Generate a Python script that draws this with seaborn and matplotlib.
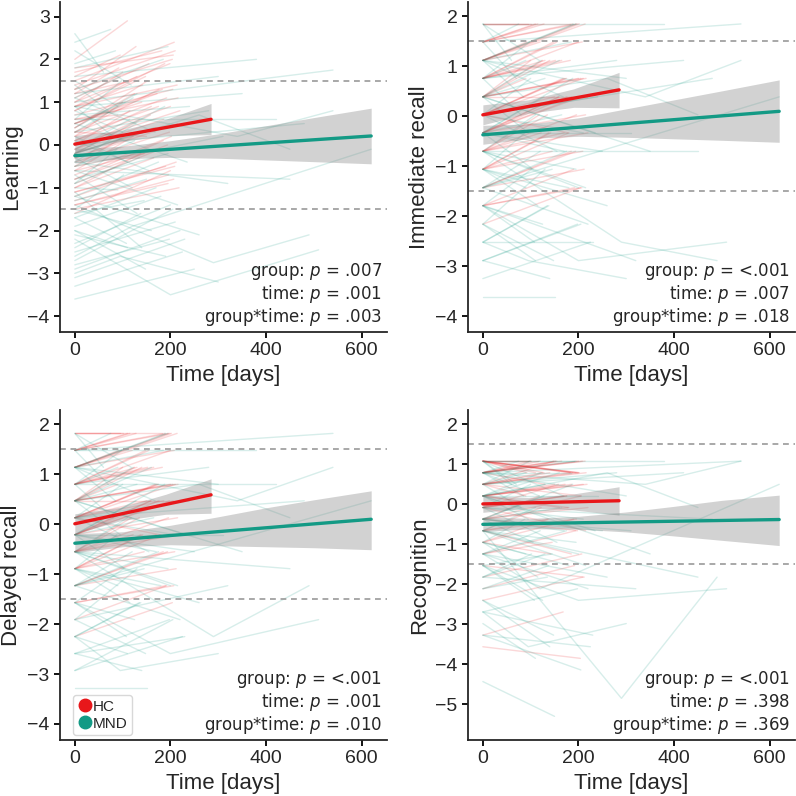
import numpy as np
import pandas as pd
import matplotlib
matplotlib.use("Agg")
import matplotlib.pyplot as plt
import seaborn as sns
from matplotlib.lines import Line2D

# ---------------- data ----------------
panel_names = ["Learning", "Immediate recall", "Delayed recall", "Recognition"]
groups = ["HC", "MND"]

# follow-up times (days); baseline is day 0
hc_t1 = [95, 110, 120, 130, 140, 150, 160, 170, 180, 185, 190, 195, 200, 205, 210, 215, 220, 100, 125, 145,
         165, 175, 188, 198, 208, 212, 90, 135, 155, 178, 192, 202, 206, 218, 115, 142, 168, 183, 196, 204,
         100, 118, 128, 138, 148, 158, 172, 182, 194, 200, 207, 214, 92, 122, 152, 186, 199, 209, 216, 176]
mnd_t1 = [60, 75, 85, 90, 95, 100, 105, 110, 115, 120, 125, 130, 135, 140, 150, 160, 170, 180, 190, 200,
          210, 220, 230, 250, 280, 300, 320, 350, 380, 420, 450, 480, 540, 90, 110, 130, 145, 165, 185, 195,
          205, 240, 260, 310,
          70, 88, 98, 108, 118, 128, 138, 155, 175, 195, 215, 225, 80, 102, 122, 148, 168, 188, 198, 235]
mnd3_t1 = [200, 290, 95, 260, 340, 120]
mnd3_t2 = [510, 490, 300, 450, 540, 620]

# Learning
hc_learn_0 = [1.6, 2.0, 1.2, 0.9, 0.5, 0.3, 0.1, -0.2, -0.5, -0.8, -1.1, -1.4, -1.6, 0.7, 1.4, -0.3, 0.0, 1.0, 0.4, -0.6,
              -1.0, 0.2, 0.8, -0.4, 1.5, -1.2, 0.6, -0.1, 1.1, -0.9, 0.3, -0.7, 1.8, -1.5, 0.0, 0.9, -0.3, 0.5, -1.3, 1.3,
              0.2, -0.5, 1.3, -1.0, 0.8, -0.2, 0.5, 1.7, -0.8, 0.1, -1.4, 0.9, 1.2, -0.6, 0.4, -0.1, 1.0, -1.1, 0.6, 0.3]
hc_learn_1 = [2.1, 2.9, 1.5, 1.6, 1.0, 0.2, 0.9, 0.4, -0.1, 0.1, -0.5, -0.9, -0.6, 1.3, 2.2, 0.5, 0.8, 1.7, 1.2, -0.2,
              -0.3, 0.9, 1.9, 0.3, 2.4, -0.4, 0.7, 0.6, 1.9, -0.1, 1.1, 0.2, 2.1, -1.0, 0.8, 1.4, 0.4, 1.3, -0.7, 2.0,
              1.0, 0.3, 2.3, -0.2, 1.6, 0.7, 1.2, 2.2, 0.0, 0.9, -0.8, 1.4, 1.8, 0.2, 1.5, 0.6, 1.9, -0.5, 1.1, 1.3]
mnd_learn_0 = [2.6, 2.4, 1.9, 1.5, 1.1, 0.8, 0.5, 0.2, -0.1, -0.3, -0.5, -0.7, -0.9, -1.1, -1.3, -1.5, -1.7, -1.9, -2.1, -2.3,
               -2.5, -2.9, -3.1, -3.6, 0.3, 1.2, -0.4, 0.9, 1.6, 0.6, -0.6, 0.0, 1.0, -1.0, -2.0, 0.4, -1.6, -0.2, 1.3, -0.8,
               -2.7, 0.7, -1.2, -0.5,
               1.4, -0.9, 0.6, -1.7, 2.2, -0.4, -2.4, 0.1, -1.2, 1.8, -0.6, -3.3, 0.9, -1.5, 0.3, -2.0, 1.1, -0.2, -2.8, 0.5]
mnd_learn_1 = [1.7, 2.7, 2.2, 0.9, 1.6, 0.3, 1.0, -0.4, 0.6, -1.0, 0.1, -1.6, -0.3, -2.4, -0.8, -2.0, -1.0, -1.2, -2.6, -1.4,
               -1.8, -2.0, -2.2, -2.9, 0.8, 1.6, -0.9, 1.2, 2.0, 0.6, -0.8, 0.5, 1.75, -1.05, -2.4, 1.2, -1.3, 0.4, 2.0, -0.2,
               -1.5, 0.9, -2.1, 0.2,
               0.8, -0.1, 1.5, -2.3, 1.4, 0.5, -1.6, -0.6, -0.4, 2.3, -1.4, -2.5, 0.2, -0.7, 1.1, -2.9, 0.3, 0.9, -2.2, -0.4]
mnd3_learn_0 = [-2.2, -1.4, -3.0, -0.2, 0.9, -2.6]
mnd3_learn_1 = [-3.5, -2.75, -2.6, 0.7, 0.2, -1.9]
mnd3_learn_2 = [-2.45, -2.1, -3.2, -0.1, 0.8, -0.1]

# Immediate recall
hc_imm_0 = [1.85, 1.49, 1.12, 0.76, 0.39, 0.03, -0.33, -0.70, -1.06, -1.43, -1.79, 1.12, 0.76, 0.39, 0.03, -0.33, -0.70, 1.85, 0.39, -1.06,
            0.76, 0.03, 1.49, -0.33, 1.12, -1.43, 0.39, -0.70, 0.76, 0.03, -1.79, 1.12, -0.33, 0.39, 1.49, -1.06, 0.03, 0.76, -0.70, -2.16,
            0.39, -0.70, 1.49, -1.06, 0.76, -0.33, 0.03, 1.85, -1.43, 0.39, -1.79, 1.12, 1.12, -0.70, 0.76, 0.03, 1.49, -1.06, 0.39, -0.33]
hc_imm_1 = [1.85, 1.85, 1.49, 1.12, 1.12, 0.39, 0.39, -0.33, -0.33, -0.70, -1.06, 1.85, 1.49, 0.76, 0.76, 0.03, -0.33, 1.85, 1.12, -0.70,
            1.12, 0.76, 1.85, 0.39, 1.49, -1.06, 0.76, 0.03, 1.49, -0.33, -1.43, 1.85, 0.39, 0.39, 1.85, -0.33, 0.76, 1.12, 0.03, -1.43,
            1.12, 0.03, 1.85, -0.33, 1.49, 0.39, 0.76, 1.85, -0.70, 0.76, -1.43, 1.85, 1.49, -0.33, 1.12, 0.39, 1.85, -0.70, 0.76, 0.39]
mnd_imm_0 = [1.85, 1.49, 1.12, 0.76, 0.39, 0.03, -0.33, -0.70, -1.06, -1.43, -1.79, -2.16, -2.52, -2.89, -3.62, 0.39, -0.33, -1.06, 1.12, -0.70,
             0.03, -1.43, -2.52, -0.33, 0.76, 1.12, -1.79, 0.39, 1.85, 0.76, -0.70, 0.03, 1.49, -1.06, -2.16, 0.39, -1.43, -0.33, 1.12, -0.70,
             -2.89, 0.03, -1.06, -0.33,
             1.49, -1.06, 0.76, -1.79, 1.85, -0.33, -2.52, 0.03, -1.43, 1.12, -0.70, -3.25, 0.76, -1.79, 0.39, -2.16, 1.12, -0.33, -2.89, 0.39]
mnd_imm_1 = [1.12, 1.85, 0.39, 1.12, -0.33, 0.76, -1.06, 0.03, -1.79, -0.70, -2.16, -1.06, -1.79, -3.25, -3.62, 1.12, -0.70, -1.43, 1.85, -1.43,
             -0.33, -2.16, -2.52, -0.70, 1.12, 0.76, -2.89, -0.70, 1.85, 1.12, -0.70, 0.76, 1.85, -1.43, -2.89, 0.76, -1.06, 0.03, 1.49, -1.06,
             -2.16, 0.39, -1.79, -0.33,
             0.76, -0.33, 1.49, -2.52, 1.12, 0.39, -1.79, -0.70, -0.70, 1.85, -1.43, -2.52, 0.03, -1.06, 1.12, -2.89, 0.39, 0.76, -2.16, -0.33]
mnd3_imm_0 = [-1.79, -0.70, -2.52, 0.39, 1.12, -1.43]
mnd3_imm_1 = [-2.89, -2.52, -2.89, 0.76, 0.39, -1.06]
mnd3_imm_2 = [-2.52, -2.89, -3.25, 0.03, 1.12, 0.39]

# Delayed recall
hc_del_0 = [1.82, 1.48, 1.14, 0.80, 0.47, 0.13, -0.21, -0.55, -0.89, -1.23, -1.57, 1.14, 0.80, 0.47, 0.13, -0.21, -0.55, 1.82, 0.47, -0.89,
            0.80, 0.13, 1.48, -0.21, 1.14, -1.23, 0.47, -0.55, 0.80, 0.13, -1.91, 1.14, -0.21, 0.47, 1.48, -0.89, 0.13, 0.80, -0.55, -2.25,
            0.47, -0.55, 1.48, -0.89, 0.80, -0.21, 0.13, 1.82, -1.23, 0.47, -1.57, 1.14, 1.14, -0.55, 0.80, 0.13, 1.48, -0.89, 0.47, -0.21]
hc_del_1 = [1.82, 1.82, 1.48, 1.14, 1.14, 0.47, 0.47, -0.21, -0.21, -0.55, -1.23, 1.82, 1.48, 0.80, 0.80, 0.13, -0.21, 1.82, 1.14, -0.55,
            1.14, 0.80, 1.82, 0.47, 1.48, -0.89, 0.80, 0.13, 1.48, -0.21, -1.23, 1.82, 0.47, 0.47, 1.82, -0.21, 0.80, 1.14, 0.13, -1.57,
            1.14, 0.13, 1.82, -0.21, 1.48, 0.47, 0.80, 1.82, -0.55, 0.80, -1.23, 1.82, 1.48, -0.21, 1.14, 0.47, 1.82, -0.55, 0.80, 0.47]
mnd_del_0 = [1.82, 1.48, 1.14, 0.80, 0.47, 0.13, -0.21, -0.55, -0.89, -1.23, -1.57, -1.91, -2.25, -2.59, -3.27, 0.47, -0.21, -0.89, 1.14, -0.55,
             0.13, -1.23, -2.59, -0.21, 0.80, 1.14, -1.91, 0.47, 1.48, 0.80, -0.55, 0.13, 1.48, -0.89, -2.25, 0.47, -1.23, -0.21, 1.14, -0.55,
             -2.93, 0.13, -0.89, -0.21,
             1.48, -0.89, 0.80, -1.57, 1.82, -0.21, -2.25, 0.13, -1.23, 1.14, -0.55, -2.93, 0.80, -1.57, 0.47, -1.91, 1.14, -0.21, -2.59, 0.47]
mnd_del_1 = [1.14, 1.82, 0.47, 1.14, -0.21, 0.80, -0.89, 0.13, -1.57, -0.55, -1.91, -0.89, -1.57, -2.93, -3.27, 1.14, -0.55, -1.23, 1.82, -1.23,
             -0.21, -1.91, -2.25, -0.55, 1.14, 0.80, -1.23, -0.55, 1.48, 0.80, -0.89, 0.47, 1.82, -1.23, -2.59, 0.80, -0.89, 0.13, 1.48, -0.89,
             -1.91, 0.47, -1.57, -0.21,
             0.80, -0.21, 1.48, -2.25, 1.14, 0.47, -1.57, -0.55, -0.55, 1.82, -1.23, -2.25, 0.13, -0.89, 1.14, -2.59, 0.47, 0.80, -1.91, -0.21]
mnd3_del_0 = [-1.57, -0.55, -2.25, 0.47, 1.14, -1.23]
mnd3_del_1 = [-2.59, -2.25, -2.93, 0.80, 0.47, -0.89]
mnd3_del_2 = [-1.91, -1.23, -2.59, 0.13, 1.14, 0.47]

# Recognition
hc_rec_0 = [1.08, 1.08, 0.79, 0.79, 0.50, 0.21, 0.21, -0.08, -0.37, -0.66, -0.95, 1.08, 0.79, 0.50, 0.21, -0.08, -0.37, 1.08, 0.50, -1.24,
            0.79, -0.08, 1.08, -0.37, 0.79, -1.53, 0.50, -0.66, 0.79, 0.21, -2.11, 1.08, -0.37, 0.21, 1.08, -0.95, -3.27, 0.50, -0.66, -3.56,
            0.79, -0.37, 1.08, -0.95, 0.50, -0.08, 0.21, 1.08, -1.24, 0.50, -1.82, 0.79, 1.08, -0.66, 0.79, 0.21, 1.08, -2.40, 0.50, -0.08]
hc_rec_1 = [1.08, 0.79, 1.08, 0.50, 0.79, 0.50, -0.08, 0.21, -0.08, -1.24, -0.37, 0.79, 1.08, 0.21, 0.50, -0.66, -0.08, 1.08, 0.79, -0.95,
            1.08, 0.21, 0.79, -0.66, 1.08, -1.82, 0.21, -0.37, 1.08, -0.08, -1.53, 0.79, 0.21, 0.50, 1.08, -1.24, -2.69, 0.79, -0.37, -3.85,
            1.08, 0.21, 0.79, -0.37, 1.08, 0.50, 0.50, 0.79, -0.66, 0.79, -1.24, 1.08, 0.79, -0.08, 1.08, 0.50, 0.79, -1.82, 0.79, 0.21]
mnd_rec_0 = [1.08, 0.79, 0.79, 0.50, 0.21, -0.08, -0.37, -0.66, -0.95, -1.24, -1.53, -1.82, -2.11, -2.40, -4.43, 0.21, -0.37, -0.95, 1.08, -0.66,
             -0.08, -1.24, -2.69, -0.37, 0.50, 0.79, -1.82, 0.21, 1.08, 0.50, -0.66, -0.08, 0.79, -0.95, -2.98, 0.21, -1.53, -0.37, 0.79, -0.66,
             -3.27, 0.21, -1.24, -0.37,
             1.08, -0.95, 0.50, -1.53, 0.79, -0.37, -2.11, -0.08, -1.24, 0.79, -0.66, -3.27, 0.50, -1.82, 0.21, -2.40, 1.08, -0.37, -2.69, 0.21]
mnd_rec_1 = [0.50, 1.08, 0.21, 0.79, -0.37, 0.50, -0.95, -0.08, -1.82, -0.66, -2.40, -1.24, -1.82, -3.56, -5.30, 0.79, -0.66, -1.53, 1.08, -1.24,
             -0.37, -2.11, -3.27, -0.66, 0.79, 0.21, -2.11, -1.24, 1.08, 0.79, -1.82, -0.37, 1.08, -1.24, -3.85, 0.50, -1.24, -0.08, 0.79, -0.95,
             -4.14, 0.21, -1.82, -0.66,
             0.50, -0.37, 1.08, -2.40, 0.21, 0.21, -1.53, -0.95, -0.66, 1.08, -1.53, -3.56, -0.08, -1.24, 0.79, -3.27, 0.21, 0.50, -2.11, -0.66]
mnd3_rec_0 = [-1.53, -0.66, -2.69, 0.21, 0.79, -1.24]
mnd3_rec_1 = [-2.40, -4.85, -3.56, 0.79, 0.50, -2.11]
mnd3_rec_2 = [-2.11, -1.82, -2.98, -0.08, 1.08, 0.50]

# model fits (line end points) and confidence bands
hc_fit_x = [0, 285]
mnd_fit_x = [0, 620]
hc_ci_x = [0, 95, 190, 285]
mnd_ci_x = [0, 100, 200, 300, 400, 500, 620]

learn_hc_fit = [0.02, 0.60]
learn_mnd_fit = [-0.25, 0.21]
learn_hc_lo = [-0.18, 0.08, 0.22, 0.24]
learn_hc_hi = [0.22, 0.34, 0.60, 0.97]
learn_mnd_lo = [-0.42, -0.32, -0.29, -0.31, -0.35, -0.39, -0.44]
learn_mnd_hi = [-0.08, -0.03, 0.10, 0.26, 0.45, 0.64, 0.86]

imm_hc_fit = [0.03, 0.53]
imm_mnd_fit = [-0.37, 0.10]
imm_hc_lo = [-0.17, 0.06, 0.18, 0.17]
imm_hc_hi = [0.23, 0.33, 0.55, 0.88]
imm_mnd_lo = [-0.56, -0.44, -0.40, -0.42, -0.45, -0.48, -0.52]
imm_mnd_hi = [-0.18, -0.15, -0.03, 0.15, 0.33, 0.51, 0.73]

del_hc_fit = [0.01, 0.59]
del_mnd_fit = [-0.38, 0.10]
del_hc_lo = [-0.19, 0.07, 0.20, 0.22]
del_hc_hi = [0.21, 0.34, 0.60, 0.91]
del_mnd_lo = [-0.57, -0.45, -0.41, -0.43, -0.45, -0.47, -0.51]
del_mnd_hi = [-0.19, -0.15, -0.02, 0.15, 0.33, 0.49, 0.67]

rec_hc_fit = [0.01, 0.09]
rec_mnd_fit = [-0.50, -0.38]
rec_hc_lo = [-0.20, -0.09, -0.14, -0.27]
rec_hc_hi = [0.22, 0.17, 0.26, 0.44]
rec_mnd_lo = [-0.68, -0.61, -0.62, -0.69, -0.79, -0.90, -1.03]
rec_mnd_hi = [-0.32, -0.35, -0.30, -0.19, -0.05, 0.10, 0.23]

p_group = [".007", "<.001", "<.001", "<.001"]
p_time = [".001", ".007", ".001", ".398"]
p_inter = [".003", ".018", ".010", ".369"]

ylims = [(-4.37, 3.34), (-4.32, 2.29), (-4.32, 2.29), (-5.89, 2.36)]
yticks = [list(range(-4, 4)), list(range(-4, 3)), list(range(-4, 3)), list(range(-5, 3))]
xticks = [0, 200, 400, 600]
cutoffs = [-1.5, 1.5]

RED = "#e8171a"
TEAL = "#139a85"
palette = {"HC": RED, "MND": TEAL}

panels = [
    (hc_learn_0, hc_learn_1, mnd_learn_0, mnd_learn_1, mnd3_learn_0, mnd3_learn_1, mnd3_learn_2,
     learn_hc_fit, learn_mnd_fit, learn_hc_lo, learn_hc_hi, learn_mnd_lo, learn_mnd_hi),
    (hc_imm_0, hc_imm_1, mnd_imm_0, mnd_imm_1, mnd3_imm_0, mnd3_imm_1, mnd3_imm_2,
     imm_hc_fit, imm_mnd_fit, imm_hc_lo, imm_hc_hi, imm_mnd_lo, imm_mnd_hi),
    (hc_del_0, hc_del_1, mnd_del_0, mnd_del_1, mnd3_del_0, mnd3_del_1, mnd3_del_2,
     del_hc_fit, del_mnd_fit, del_hc_lo, del_hc_hi, del_mnd_lo, del_mnd_hi),
    (hc_rec_0, hc_rec_1, mnd_rec_0, mnd_rec_1, mnd3_rec_0, mnd3_rec_1, mnd3_rec_2,
     rec_hc_fit, rec_mnd_fit, rec_hc_lo, rec_hc_hi, rec_mnd_lo, rec_mnd_hi),
]


def build_long(hc0, hc1, m0, m1, m30, m31, m32):
    rows = []
    for i, (a, b, t) in enumerate(zip(hc0, hc1, hc_t1)):
        rows += [(f"h{i}", "HC", 0, a), (f"h{i}", "HC", t, b)]
    for i, (a, b, t) in enumerate(zip(m0, m1, mnd_t1)):
        rows += [(f"m{i}", "MND", 0, a), (f"m{i}", "MND", t, b)]
    for i, (a, b, c, t1, t2) in enumerate(zip(m30, m31, m32, mnd3_t1, mnd3_t2)):
        rows += [(f"k{i}", "MND", 0, a), (f"k{i}", "MND", t1, b), (f"k{i}", "MND", t2, c)]
    return pd.DataFrame(rows, columns=["subject", "group", "time", "score"])


# ---------------- plotting ----------------
sns.set_theme(style="ticks")
plt.rcParams["font.family"] = ["Liberation Sans", "DejaVu Sans"]
plt.rcParams["mathtext.fontset"] = "dejavusans"
plt.rcParams["axes.linewidth"] = 1.3
plt.rcParams["xtick.major.width"] = 1.3
plt.rcParams["ytick.major.width"] = 1.3

fig, axes = plt.subplots(2, 2, figsize=(7.96, 7.96), dpi=100)
fig.subplots_adjust(left=0.0754, right=0.9987, bottom=0.0704, top=0.9975, wspace=0.248, hspace=0.236)

for k, ax in enumerate(axes.flat):
    (hc0, hc1, m0, m1, m30, m31, m32, hfit, mfit, hlo, hhi, mlo, mhi) = panels[k]
    df = build_long(hc0, hc1, m0, m1, m30, m31, m32)
    sns.lineplot(data=df, x="time", y="score", hue="group", units="subject", estimator=None,
                 palette=palette, alpha=0.17, lw=1.0, legend=False, ax=ax, zorder=1)
    for c in cutoffs:
        ax.axhline(c, color="#9a9a9a", lw=1.2, ls=(0, (3.5, 2.8)), zorder=2)
    ax.fill_between(hc_ci_x, hlo, hhi, color="#808080", alpha=0.35, lw=0, zorder=3)
    ax.fill_between(mnd_ci_x, mlo, mhi, color="#808080", alpha=0.35, lw=0, zorder=3)
    sns.lineplot(x=hc_fit_x, y=hfit, color=RED, lw=2.4, ax=ax, zorder=4)
    sns.lineplot(x=mnd_fit_x, y=mfit, color=TEAL, lw=2.4, ax=ax, zorder=4)

    ax.set_xlim(-31, 653)
    ax.set_ylim(*ylims[k])
    ax.set_xticks(xticks)
    ax.set_yticks(yticks[k])
    ax.tick_params(labelsize=14, color="black", length=4)
    ax.set_xlabel("Time [days]", fontsize=16)
    ax.set_ylabel(panel_names[k], fontsize=16)
    sns.despine(ax=ax)

    lines = [f"group*time: $p$ = {p_inter[k]}",
             f"time: $p$ = {p_time[k]}",
             f"group: $p$ = {p_group[k]}"]
    for j, line in enumerate(lines):
        ax.annotate(line, xy=(0.985, 0.012), xycoords="axes fraction",
                    xytext=(0, 16.6 * j), textcoords="offset points",
                    ha="right", va="bottom", fontsize=12, family="DejaVu Sans", zorder=5)

handles = [Line2D([0], [0], marker="o", ls="", color=palette[g], markersize=9, label=g) for g in groups]
axes[1, 0].legend(handles=handles, loc="lower left", bbox_to_anchor=(0.025, 0.0), fontsize=11,
                  frameon=True, fancybox=True, framealpha=1, edgecolor="#d8d8d8",
                  handletextpad=0.0, handlelength=1.0, borderpad=0.3, labelspacing=0.2, borderaxespad=0.3)

fig.savefig("out.png", dpi=100)
